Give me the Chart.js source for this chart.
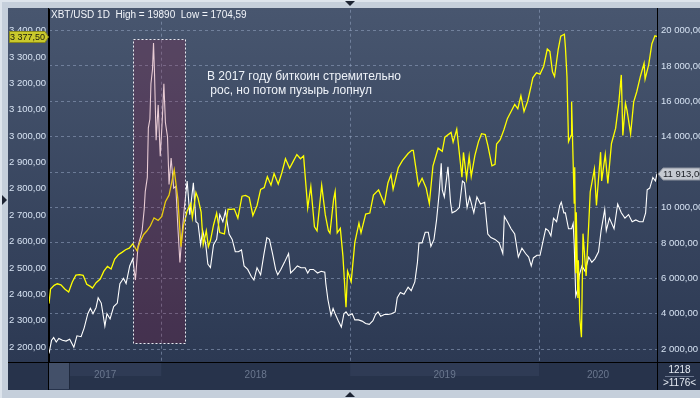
<!DOCTYPE html>
<html>
<head>
<meta charset="utf-8">
<script src="https://cdn.jsdelivr.net/npm/chart.js@4.4.1/dist/chart.umd.min.js"></script>
<style>
  html, body { margin: 0; padding: 0; background: #c5cfdb; }
  canvas { display: block; }
</style>
</head>
<body>
<canvas id="chart" width="700" height="398"></canvas>
<script>
// S&P 500 (left axis, yellow)
const spxDates = [
  "2017-05-29","2017-06-01","2017-06-08","2017-06-14","2017-06-21","2017-06-29","2017-07-06","2017-07-13","2017-07-20","2017-07-27",
  "2017-08-03","2017-08-10","2017-08-17","2017-08-21","2017-08-28","2017-09-05","2017-09-12","2017-09-19","2017-09-26","2017-10-03",
  "2017-10-10","2017-10-17","2017-10-24","2017-10-31","2017-11-07","2017-11-15","2017-11-21","2017-11-28","2017-12-04","2017-12-11",
  "2017-12-18","2017-12-26","2018-01-02","2018-01-09","2018-01-16","2018-01-22","2018-01-26","2018-02-02","2018-02-08","2018-02-13",
  "2018-02-20","2018-02-27","2018-03-02","2018-03-09","2018-03-13","2018-03-19","2018-03-23","2018-03-29","2018-04-02","2018-04-06",
  "2018-04-12","2018-04-18","2018-04-24","2018-05-03","2018-05-10","2018-05-16","2018-05-22","2018-05-29","2018-06-06","2018-06-13",
  "2018-06-20","2018-06-27","2018-07-05","2018-07-12","2018-07-19","2018-07-25","2018-08-01","2018-08-07","2018-08-15","2018-08-22",
  "2018-08-29","2018-09-06","2018-09-13","2018-09-20","2018-09-27","2018-10-03","2018-10-11","2018-10-17","2018-10-24","2018-10-29",
  "2018-11-07","2018-11-14","2018-11-20","2018-11-23","2018-11-30","2018-12-03","2018-12-07","2018-12-13","2018-12-18","2018-12-24",
  "2018-12-27","2019-01-03","2019-01-10","2019-01-18","2019-01-22","2019-01-31","2019-02-08","2019-02-15","2019-02-25","2019-03-08",
  "2019-03-15","2019-03-21","2019-03-25","2019-04-04","2019-04-12","2019-04-23","2019-04-30","2019-05-03","2019-05-13","2019-05-20",
  "2019-05-28","2019-06-03","2019-06-10","2019-06-20","2019-06-28","2019-07-03","2019-07-15","2019-07-19","2019-07-26","2019-08-05",
  "2019-08-08","2019-08-14","2019-08-19","2019-08-23","2019-08-30","2019-09-06","2019-09-12","2019-09-19","2019-09-24","2019-10-02",
  "2019-10-08","2019-10-11","2019-10-18","2019-10-25","2019-11-01","2019-11-08","2019-11-15","2019-11-21","2019-11-27","2019-12-03",
  "2019-12-10","2019-12-17","2019-12-20","2019-12-27","2020-01-03","2020-01-10","2020-01-17","2020-01-22","2020-01-27","2020-01-31",
  "2020-02-07","2020-02-12","2020-02-19","2020-02-21","2020-02-24","2020-02-27","2020-03-03","2020-03-04","2020-03-06","2020-03-09",
  "2020-03-10","2020-03-12","2020-03-13","2020-03-16","2020-03-17","2020-03-20","2020-03-23","2020-03-26","2020-04-01","2020-04-06",
  "2020-04-09","2020-04-17","2020-04-21","2020-04-29","2020-05-01","2020-05-08","2020-05-13","2020-05-20","2020-05-28","2020-06-03",
  "2020-06-08","2020-06-11","2020-06-16","2020-06-19","2020-06-26","2020-07-02","2020-07-08","2020-07-15","2020-07-22","2020-07-24",
  "2020-07-31","2020-08-06","2020-08-12","2020-08-16"
];
const spxValues = [
  2365,2420,2434,2440,2436,2419,2409,2447,2473,2475,
  2472,2438,2430,2424,2444,2458,2488,2506,2496,2534,
  2550,2559,2569,2575,2591,2565,2599,2627,2640,2660,
  2690,2680,2695,2751,2776,2832,2872,2762,2581,2662,
  2716,2744,2691,2786,2765,2712,2588,2641,2581,2604,
  2663,2708,2634,2629,2723,2722,2724,2689,2772,2775,
  2767,2699,2737,2798,2805,2846,2814,2858,2818,2861,
  2914,2878,2904,2930,2914,2925,2728,2809,2656,2641,
  2813,2701,2641,2632,2760,2790,2633,2650,2546,2351,
  2488,2448,2596,2670,2633,2704,2708,2776,2796,2743,
  2822,2854,2798,2880,2907,2934,2946,2946,2812,2840,
  2802,2744,2886,2954,2942,2996,3014,2977,3026,2844,
  2938,2840,2923,2847,2926,2979,3009,3006,2966,2887,
  2893,2970,2986,3023,3067,3093,3120,3104,3153,3093,
  3132,3192,3221,3240,3235,3265,3330,3321,3244,3226,
  3328,3379,3386,3338,3225,2979,3003,3130,2972,2746,
  2882,2480,2711,2386,2529,2305,2237,2630,2470,2664,
  2789,2875,2737,2939,2830,2930,2820,2972,3029,3122,
  3232,3002,3124,3098,3009,3130,3169,3227,3276,3216,
  3271,3349,3380,3377.5
];

// XBT/USD (right axis, white)
const btcDates = [
  "2017-05-29","2017-06-03","2017-06-07","2017-06-12","2017-06-17","2017-06-24","2017-07-01","2017-07-08","2017-07-16","2017-07-22",
  "2017-07-30","2017-08-05","2017-08-12","2017-08-17","2017-08-22","2017-08-28","2017-09-01","2017-09-07","2017-09-14","2017-09-18",
  "2017-09-24","2017-10-01","2017-10-08","2017-10-13","2017-10-20","2017-10-25","2017-11-01","2017-11-07","2017-11-12","2017-11-17",
  "2017-11-25","2017-11-29","2017-12-01","2017-12-05","2017-12-07","2017-12-10","2017-12-12","2017-12-15","2017-12-17","2017-12-19",
  "2017-12-22","2017-12-26","2017-12-30","2018-01-03","2018-01-06","2018-01-09","2018-01-13","2018-01-16","2018-01-20","2018-01-25",
  "2018-01-29","2018-02-02","2018-02-06","2018-02-10","2018-02-15","2018-02-20","2018-02-25","2018-03-04","2018-03-09","2018-03-13",
  "2018-03-18","2018-03-22","2018-03-28","2018-04-01","2018-04-06","2018-04-12","2018-04-18","2018-04-24","2018-04-30","2018-05-05",
  "2018-05-12","2018-05-18","2018-05-24","2018-05-30","2018-06-05","2018-06-10","2018-06-17","2018-06-24","2018-06-29","2018-07-05",
  "2018-07-12","2018-07-18","2018-07-24","2018-07-29","2018-08-04","2018-08-10","2018-08-14","2018-08-20","2018-08-27","2018-09-04",
  "2018-09-08","2018-09-15","2018-09-21","2018-09-28","2018-10-06","2018-10-11","2018-10-15","2018-10-22","2018-10-30","2018-11-06",
  "2018-11-13","2018-11-15","2018-11-19","2018-11-25","2018-11-29","2018-12-03","2018-12-09","2018-12-15","2018-12-20","2018-12-24",
  "2018-12-29","2019-01-05","2019-01-10","2019-01-17","2019-01-24","2019-01-31","2019-02-07","2019-02-14","2019-02-19","2019-02-24",
  "2019-03-01","2019-03-08","2019-03-15","2019-03-22","2019-03-29","2019-04-02","2019-04-08","2019-04-15","2019-04-23","2019-04-29",
  "2019-05-06","2019-05-11","2019-05-14","2019-05-20","2019-05-26","2019-06-01","2019-06-06","2019-06-12","2019-06-17","2019-06-22",
  "2019-06-26","2019-06-28","2019-07-02","2019-07-09","2019-07-14","2019-07-17","2019-07-24","2019-07-31","2019-08-06","2019-08-10",
  "2019-08-15","2019-08-20","2019-08-28","2019-09-03","2019-09-10","2019-09-18","2019-09-24","2019-09-30","2019-10-08","2019-10-16",
  "2019-10-23","2019-10-26","2019-11-01","2019-11-08","2019-11-15","2019-11-22","2019-11-29","2019-12-06","2019-12-12","2019-12-17",
  "2019-12-21","2019-12-28","2020-01-03","2020-01-08","2020-01-14","2020-01-19","2020-01-24","2020-01-29","2020-02-04","2020-02-10",
  "2020-02-13","2020-02-18","2020-02-21","2020-02-27","2020-03-04","2020-03-07","2020-03-09","2020-03-12","2020-03-16","2020-03-19",
  "2020-03-24","2020-03-30","2020-04-06","2020-04-12","2020-04-18","2020-04-25","2020-04-30","2020-05-07","2020-05-10","2020-05-16",
  "2020-05-25","2020-06-01","2020-06-08","2020-06-15","2020-06-22","2020-06-29","2020-07-06","2020-07-13","2020-07-20","2020-07-25",
  "2020-07-28","2020-08-02","2020-08-08","2020-08-13","2020-08-16"
];
const btcValues = [
  1750,2500,2650,2400,2600,2500,2450,2550,2100,2750,
  2700,3200,4000,4300,4000,4350,4900,4600,3300,4000,
  3700,4400,4600,5700,6000,5700,6700,7100,5900,7800,
  8700,9900,10900,11700,14500,15000,17000,17800,19300,17500,
  13800,15800,12900,15000,17000,14800,14000,11300,12800,11100,
  11200,8900,6900,8500,10100,11500,9600,11400,9200,9100,
  7900,8700,7900,6800,6600,7900,8200,9600,9200,9800,
  8500,8200,7500,7500,7600,6700,6500,6100,5900,6600,
  6200,7300,8300,8200,7400,6500,6200,6500,6900,7400,
  6300,6500,6700,6600,6600,6300,6500,6500,6300,6400,
  6350,5700,4800,3900,4300,4000,3600,3250,4000,4100,
  3900,4000,3650,3650,3580,3450,3400,3600,3950,4100,
  3850,3950,3950,4000,4100,4900,5200,5100,5500,5300,
  5800,6900,8000,8000,8600,8600,7800,8200,9300,10800,
  12500,11000,10600,12300,10300,9700,9800,10000,11500,11400,
  10000,10600,9700,10600,10200,10300,8500,8300,8200,8000,
  7400,9500,9200,8800,8500,7200,7700,7400,7200,6700,
  7150,7300,7300,8000,8800,8700,8400,9400,9200,10100,
  10300,9700,9700,8800,8800,9100,7900,5000,5400,6200,
  6700,6400,7200,6900,7100,7500,8700,9900,8700,9400,
  8800,10200,9700,9400,9600,9200,9300,9200,9200,9700,
  11000,11100,11700,11500,11913
];

const leftTicks = [2200, 2300, 2400, 2500, 2600, 2700, 2800, 2900, 3000, 3100, 3200, 3300, 3400];
const rightTicks = [2000, 4000, 6000, 8000, 10000, 12000, 14000, 16000, 18000, 20000];
const yearStarts = ["2018-01-01", "2019-01-01", "2020-01-01"];
const yearLabels = ["2017", "2018", "2019", "2020"];
const xStart = "2017-05-29";
const xEnd = "2020-08-16";

const headerText = "XBT/USD 1D  High = 19890  Low = 1704,59";
const noteLines = ["В 2017 году биткоин стремительно", " рос, но потом пузырь лопнул"];
const bubble = { from: "2017-11-08", to: "2018-02-16", top: 19550, bottom: 2340 };

const dayNum = s => Date.parse(s + "T00:00:00Z") / 86400000;
const fmt = v => v.toFixed(2).replace(".", ",").replace(/\B(?=(\d{3})+(?!\d))/g, " ");
const toPoints = (dates, values) => dates.map((d, i) => ({ x: dayNum(d), y: values[i] }));

const FONT = "'Liberation Sans', Arial, sans-serif";
const AXIS_FONT = { family: FONT, size: 9.5 };

// background, panel and bottom time strip
const framePlugin = {
  id: "frame",
  beforeDraw(chart) {
    const ctx = chart.ctx;
    const { left, right, top, bottom } = chart.chartArea;
    const W = chart.width, H = chart.height;
    ctx.save();
    ctx.fillStyle = "#c5cfdb";
    ctx.fillRect(0, 0, W, H);
    ctx.fillStyle = "#dde4ec";
    ctx.fillRect(0, 0, W, 2);
    ctx.fillRect(0, 0, 2, H);

    const g = ctx.createLinearGradient(0, 8, 0, bottom);
    g.addColorStop(0, "#48566f");
    g.addColorStop(1, "#2c3953");
    ctx.fillStyle = g;
    ctx.fillRect(8, 8, W - 8, bottom - 8);

    // time strip
    ctx.fillStyle = "#27334b";
    ctx.fillRect(8, bottom, W - 8, 390 - bottom);
    const x = chart.scales.x;
    const edges = [dayNum(xStart), ...yearStarts.map(dayNum), dayNum(xEnd)].map(v => x.getPixelForValue(v));
    for (let i = 0; i < yearLabels.length; i++) {
      if (i % 2 === 0) {
        ctx.fillStyle = "#2f3b55";
        ctx.fillRect(edges[i], bottom + 1, edges[i + 1] - edges[i], 13);
      }
    }
    ctx.fillStyle = "#435069";
    ctx.fillRect(left, bottom + 1, 20, 26);
    ctx.fillStyle = "#1e283c";
    ctx.fillRect(left + 20, bottom + 1, 1, 26);

    ctx.font = "10px " + FONT;
    ctx.fillStyle = "#6a778e";
    ctx.textAlign = "center";
    ctx.textBaseline = "middle";
    for (let i = 0; i < yearLabels.length; i++) {
      ctx.fillText(yearLabels[i], (edges[i] + edges[i + 1]) / 2, bottom + 13);
    }

    // little arrows on the frame
    ctx.fillStyle = "#1d2433";
    ctx.beginPath(); ctx.moveTo(345, 1); ctx.lineTo(355, 1); ctx.lineTo(350, 6); ctx.fill();
    ctx.beginPath(); ctx.moveTo(345, 397); ctx.lineTo(355, 397); ctx.lineTo(350, 392); ctx.fill();
    ctx.beginPath(); ctx.moveTo(2, 195); ctx.lineTo(2, 205); ctx.lineTo(7, 200); ctx.fill();
    ctx.restore();
  },
  afterDatasetsDraw(chart) {
    const ctx = chart.ctx;
    const x = chart.scales.x, yR = chart.scales.yR;
    const x0 = Math.round(x.getPixelForValue(dayNum(bubble.from))) + 0.5;
    const x1 = Math.round(x.getPixelForValue(dayNum(bubble.to))) + 0.5;
    const y0 = Math.round(yR.getPixelForValue(bubble.top)) + 0.5;
    const y1 = Math.round(yR.getPixelForValue(bubble.bottom)) + 0.5;
    ctx.save();
    ctx.fillStyle = "rgba(150, 20, 60, 0.22)";
    ctx.fillRect(x0, y0, x1 - x0, y1 - y0);
    ctx.strokeStyle = "#e8ecf2";
    ctx.lineWidth = 1;
    ctx.setLineDash([2, 2]);
    ctx.strokeRect(x0, y0, x1 - x0, y1 - y0);
    ctx.restore();
  },
  afterDraw(chart) {
    const ctx = chart.ctx;
    const { left, right, top, bottom } = chart.chartArea;
    const yL = chart.scales.yL, yR = chart.scales.yR;
    ctx.save();
    // axis separators
    ctx.strokeStyle = "#000";
    ctx.lineWidth = 1;
    ctx.beginPath();
    ctx.moveTo(8, bottom + 0.5); ctx.lineTo(chart.width, bottom + 0.5);
    ctx.moveTo(left - 0.5, 8); ctx.lineTo(left - 0.5, 390);
    ctx.moveTo(right + 0.5, 8); ctx.lineTo(right + 0.5, 390);
    ctx.stroke();

    // header
    ctx.font = "10px " + FONT;
    ctx.fillStyle = "#f2f5fa";
    ctx.textAlign = "left";
    ctx.textBaseline = "middle";
    ctx.fillText(headerText, left + 2, 15);

    // note
    ctx.font = "12px " + FONT;
    ctx.fillStyle = "#eef2f8";
    ctx.fillText(noteLines[0], 207, 77);
    ctx.fillText(noteLines[1], 207, 91);

    // last price tag, left
    const spxLast = spxValues[spxValues.length - 1];
    const ty = Math.round(yL.getPixelForValue(spxLast));
    ctx.fillStyle = "#c9c92c";
    ctx.strokeStyle = "#8a8a18";
    ctx.beginPath();
    ctx.moveTo(9.5, ty - 5.5); ctx.lineTo(left - 4, ty - 5.5); ctx.lineTo(left - 0.5, ty);
    ctx.lineTo(left - 4, ty + 5.5); ctx.lineTo(9.5, ty + 5.5); ctx.closePath();
    ctx.fill(); ctx.stroke();
    ctx.fillStyle = "#1a1a10";
    ctx.font = "9px " + FONT;
    ctx.textAlign = "left";
    ctx.fillText(fmt(spxLast), 10, ty + 0.5);

    // last price tag, right
    const btcLast = btcValues[btcValues.length - 1];
    const by = Math.round(yR.getPixelForValue(btcLast));
    ctx.fillStyle = "#c6cad2";
    ctx.strokeStyle = "#8c929e";
    ctx.beginPath();
    ctx.moveTo(right + 1, by); ctx.lineTo(right + 6, by - 6); ctx.lineTo(chart.width, by - 6);
    ctx.lineTo(chart.width, by + 6); ctx.lineTo(right + 6, by + 6); ctx.closePath();
    ctx.fill(); ctx.stroke();
    ctx.fillStyle = "#1a1d24";
    ctx.font = "9.5px " + FONT;
    ctx.fillText(fmt(btcLast), right + 6, by + 0.5);

    // bars counter box
    ctx.fillStyle = "#27334b";
    ctx.fillRect(right + 1, bottom + 1, chart.width - right - 1, 390 - bottom - 1);
    ctx.strokeStyle = "#6c7890";
    ctx.beginPath();
    ctx.moveTo(right + 8, bottom + 14.5); ctx.lineTo(chart.width - 6, bottom + 14.5);
    ctx.stroke();
    ctx.font = "10px " + FONT;
    ctx.fillStyle = "#e4eaf2";
    ctx.textAlign = "center";
    ctx.fillText("1218", (right + chart.width) / 2 + 1, bottom + 8);
    ctx.fillText(">1176<", (right + chart.width) / 2 + 1, bottom + 21);
    ctx.restore();
  }
};

new Chart(document.getElementById("chart"), {
  type: "line",
  data: {
    datasets: [
      {
        label: "S&P 500",
        data: toPoints(spxDates, spxValues),
        yAxisID: "yL",
        borderColor: "#ffff00",
        borderWidth: 1.3,
        pointRadius: 0,
        tension: 0
      },
      {
        label: "XBT/USD",
        data: toPoints(btcDates, btcValues),
        yAxisID: "yR",
        borderColor: "#ffffff",
        borderWidth: 1.1,
        pointRadius: 0,
        tension: 0
      }
    ]
  },
  options: {
    responsive: false,
    animation: false,
    events: [],
    layout: { padding: { left: 8, top: 8, right: 0, bottom: 36 } },
    plugins: { legend: { display: false }, tooltip: { enabled: false } },
    scales: {
      x: {
        type: "linear",
        min: dayNum(xStart),
        max: dayNum(xEnd),
        ticks: { display: false },
        grid: { color: "rgba(150, 165, 195, 0.55)", drawTicks: false },
        border: { display: false, dash: [3, 3] },
        afterBuildTicks: s => { s.ticks = yearStarts.map(d => ({ value: dayNum(d) })); },
        afterFit: s => { s.height = 0; }
      },
      yL: {
        position: "left",
        min: 2143.4,
        max: 3479.2,
        grid: { display: false, drawTicks: false },
        border: { display: true, color: "#000" },
        ticks: {
          padding: 3,
          color: "#d6e2f2",
          font: AXIS_FONT,
          callback: v => fmt(v)
        },
        afterBuildTicks: s => { s.ticks = leftTicks.map(v => ({ value: v })); },
        afterFit: s => { s.width = 41; }
      },
      yR: {
        position: "right",
        min: 1269,
        max: 21181,
        grid: { color: "rgba(150, 165, 195, 0.55)", drawTicks: false },
        border: { display: true, color: "#000", dash: [3, 3] },
        ticks: {
          padding: 4,
          color: "#d6e2f2",
          font: AXIS_FONT,
          callback: v => fmt(v)
        },
        afterBuildTicks: s => { s.ticks = rightTicks.map(v => ({ value: v })); },
        afterFit: s => { s.width = 43; }
      }
    }
  },
  plugins: [framePlugin]
});
</script>
</body>
</html>
